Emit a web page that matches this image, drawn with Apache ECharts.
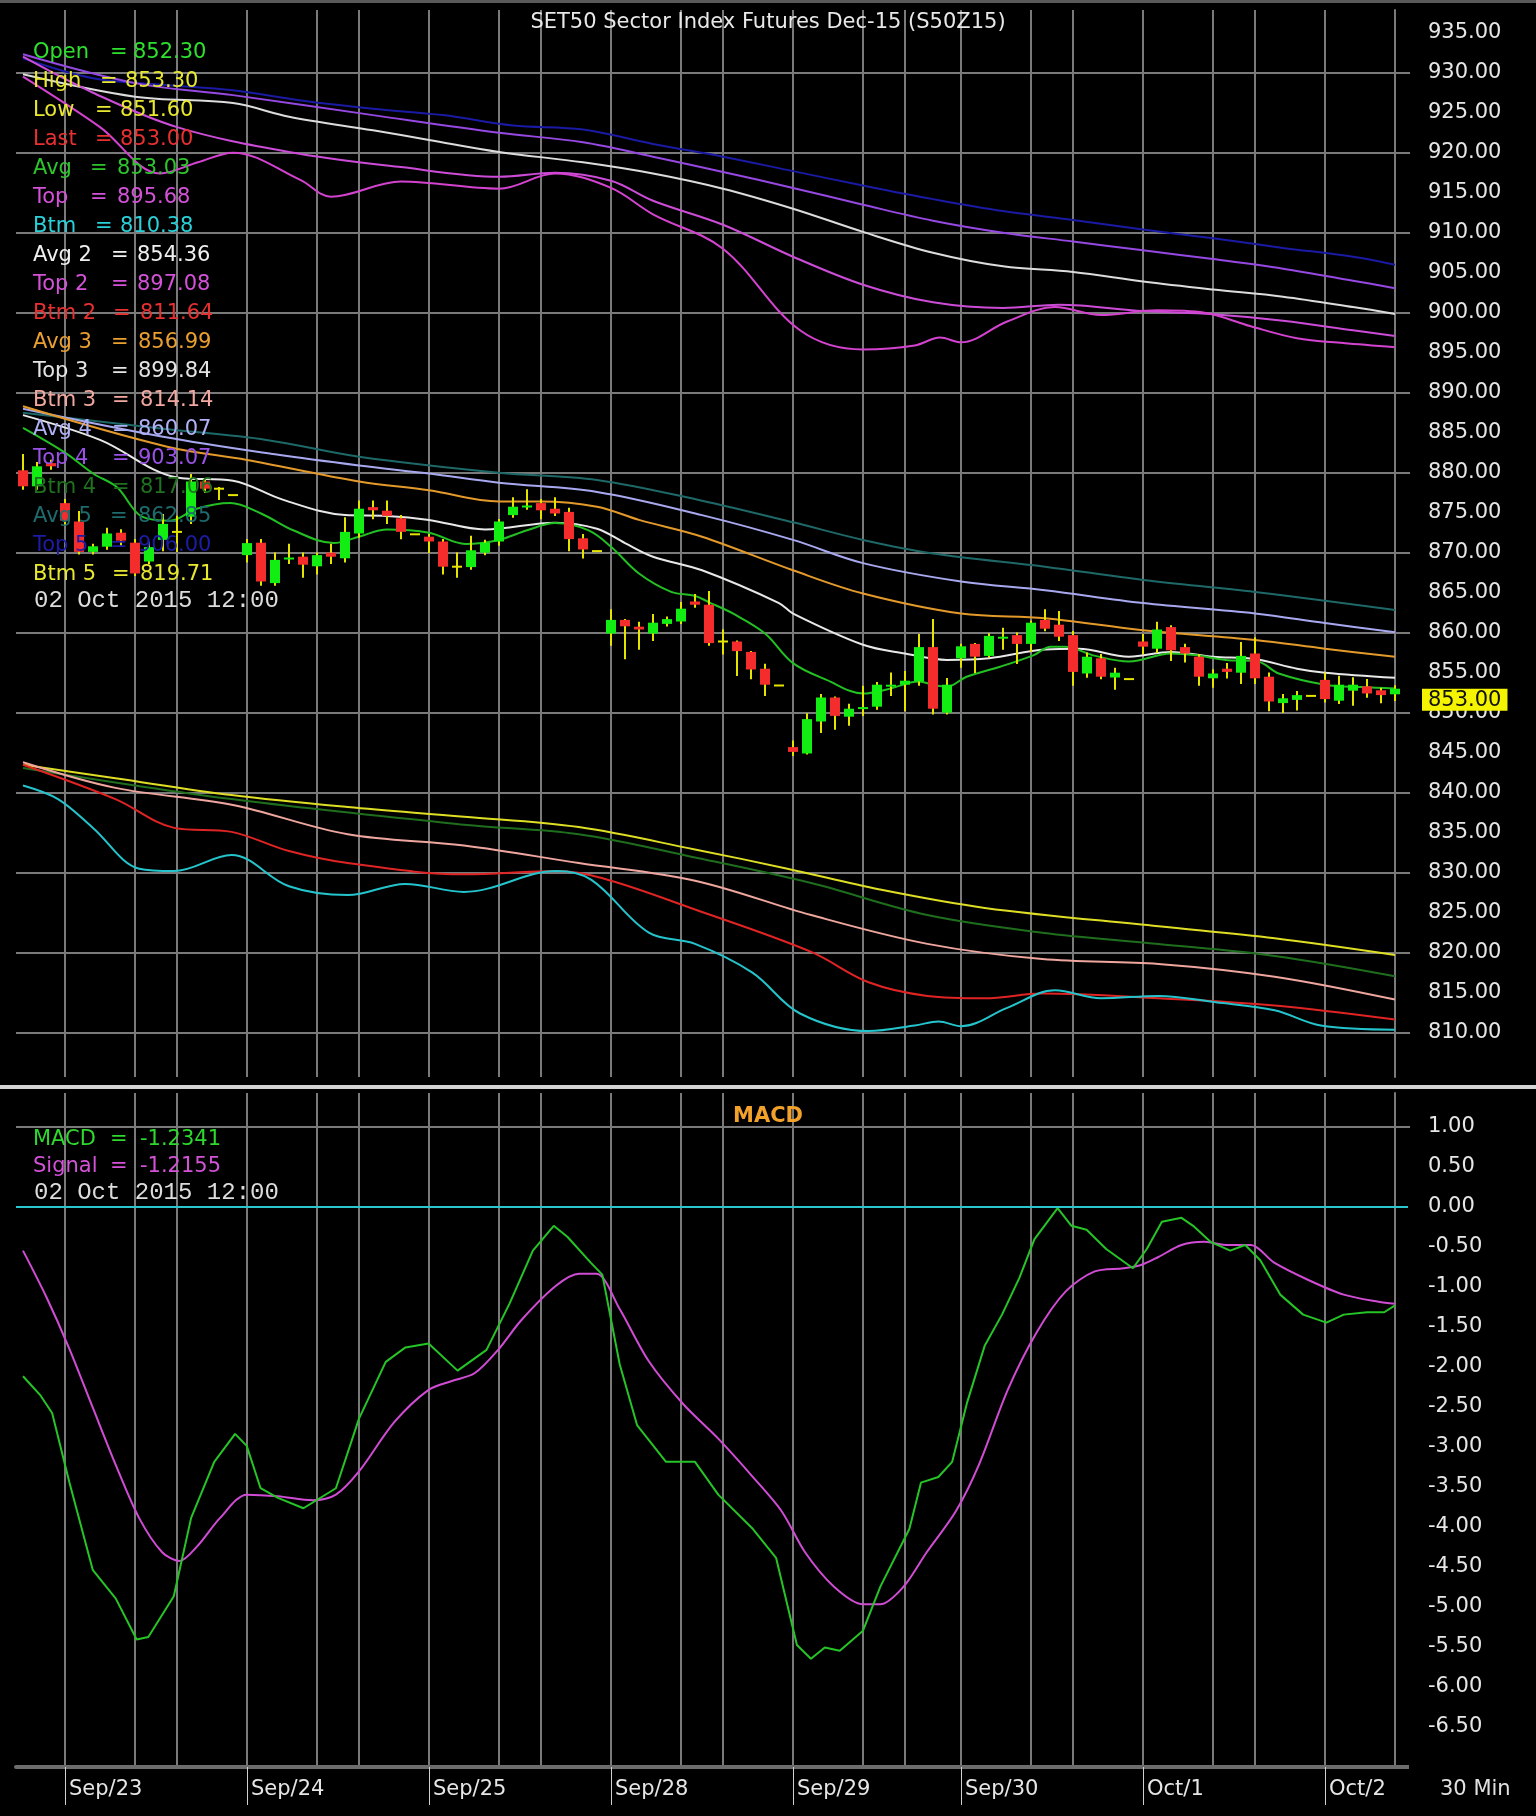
<!DOCTYPE html>
<html><head><meta charset="utf-8">
<script src="https://cdn.jsdelivr.net/npm/echarts@6/dist/echarts.min.js"></script>
<style>html,body{margin:0;padding:0;background:#000}#c{width:1536px;height:1816px}</style>
</head><body><div id="c"></div>
<script>
// ---------- DATA ----------
const opens  = [880.3,878.3,881.2,876.2,873.9,870.1,870.75,872.5,871.25,868.9,871.6,872.6,874.5,878.9,878.0,877.2,869.7,871.25,866.2,869.2,869.5,868.3,870.0,869.3,872.4,875.7,875.25,874.3,872.3,872.0,871.4,868.25,868.2,870.0,871.4,874.7,875.7,876.2,875.5,875.1,871.8,870.2,859.9,861.6,860.75,859.9,861.1,861.4,863.9,863.5,858.9,858.9,857.6,855.5,853.4,845.7,844.9,848.9,851.9,849.5,850.5,850.75,853.3,853.5,853.9,858.2,850.0,856.8,858.6,857.1,859.3,859.7,858.6,861.6,861.0,859.7,854.9,856.8,854.4,854.2,858.9,858.0,860.7,858.2,857.0,854.3,855.5,855.0,857.4,854.5,851.2,851.6,852.1,854.1,851.5,852.75,853.3,852.8,852.3];
const closes = [878.3,880.8,880.8,874.0,870.1,870.8,872.4,871.5,867.4,870.7,873.6,872.6,878.9,878.0,878.0,877.2,871.2,866.4,869.1,869.4,868.5,869.7,869.5,872.6,875.5,875.3,874.6,872.6,872.3,871.4,868.25,868.25,870.3,871.25,873.9,875.75,875.9,875.3,874.9,871.7,870.4,870.2,861.6,860.8,860.4,861.25,861.7,863.0,863.5,858.7,858.9,857.7,855.4,853.5,853.4,845.1,849.2,851.9,849.6,850.5,850.7,853.5,853.5,854.0,858.2,850.5,853.5,858.3,857.0,859.6,859.5,858.6,861.25,860.5,859.5,855.1,857.0,854.5,855.0,854.2,858.25,860.4,857.8,857.4,854.5,854.9,855.1,857.1,854.3,851.4,851.8,852.2,852.1,851.7,853.5,853.5,852.4,852.2,853.0];
const lows   = [878.0,878.0,880.5,873.5,869.9,869.9,870.5,871.0,867.2,868.7,870.3,870.2,873.7,877.6,876.7,877.2,868.9,866.0,866.0,868.7,867.0,867.4,868.7,868.9,872.0,874.3,873.7,871.8,872.3,870.1,867.4,867.0,868.0,869.8,871.0,874.5,875.5,874.3,874.7,870.3,869.4,870.2,858.5,856.8,858.0,859.1,860.9,861.2,863.25,858.5,857.4,854.7,854.3,852.2,853.4,844.7,844.9,847.6,848.0,848.5,849.7,850.5,852.2,850.3,853.5,849.9,849.9,855.75,855.1,857.0,858.0,856.2,857.7,860.3,859.1,853.5,854.5,854.3,853.0,854.2,857.4,857.6,856.6,856.4,853.5,853.25,854.4,853.7,853.7,850.3,850.1,850.4,852.1,851.4,851.2,851.0,852.0,851.3,851.6];
const highs  = [882.2,881.2,881.5,876.6,875.1,871.0,873.0,872.8,871.6,871.2,874.7,874.5,879.7,879.2,878.1,877.2,871.6,871.6,869.9,871.0,869.9,869.9,871.0,874.3,876.4,876.4,876.4,874.6,872.3,872.2,871.6,869.9,872.0,871.5,874.1,876.8,877.8,876.6,876.8,875.5,872.2,870.2,862.8,861.6,861.25,862.2,861.9,863.7,864.7,865.1,860.3,858.9,857.6,856.0,853.4,846.4,849.8,852.2,851.9,851.0,853.25,853.7,854.9,855.1,859.7,861.6,854.2,858.5,858.6,859.8,860.5,859.9,861.4,862.8,862.6,860.1,857.4,857.2,855.5,854.2,859.7,861.25,860.8,858.5,857.2,855.3,856.1,858.7,859.3,854.9,852.2,852.6,852.1,854.9,854.5,854.3,854.1,853.0,853.3];

// band lines [bar index, value]
const top5 = [[0,931.8],[5,929.3],[10,928.5],[15,927.8],[20,926.5],[25,925.5],[30,924.7],[35,923.4],[40,922.9],[45,921.1],[50,919.5],[55,917.7],[60,915.9],[65,914.2],[70,912.7],[75,911.6],[80,910.4],[85,909.3],[90,908.1],[95,907.0],[98,906.00]];
const top4 = [[0,932.3],[8,928.7],[15,927.2],[25,924.7],[34,922.5],[40,921.3],[45,919.5],[50,917.6],[55,915.6],[60,913.5],[65,911.5],[70,910.0],[75,908.9],[80,907.8],[85,906.7],[90,905.5],[95,904.0],[98,903.07]];
const top3 = [[0,929.8],[8,927.0],[15,926.2],[19,924.5],[25,922.8],[29,921.6],[34,920.1],[40,918.8],[45,917.4],[50,915.5],[55,913.0],[60,910.1],[65,907.5],[70,905.8],[75,905.1],[80,903.9],[85,902.9],[90,902.0],[95,900.7],[98,899.84]];
const top2 = [[0,932.0],[5,927.5],[11,923.2],[19,920.1],[27,918.2],[34,917.0],[38,917.5],[42,916.5],[45,914.0],[50,911.0],[55,907.0],[60,903.5],[65,901.3],[70,900.6],[74,901.0],[80,900.2],[85,899.8],[90,899.0],[95,897.8],[98,897.08]];
const top1 = [[0,929.5],[5.5,923.2],[9.8,917.4],[12.5,918.8],[15,920.0],[19.8,916.6],[22,914.5],[27,916.4],[34,915.5],[38,917.4],[42,915.6],[45,912.3],[50,908.0],[55.5,897.8],[60,895.4],[63.7,895.9],[65.5,896.9],[67,896.3],[70.3,898.9],[73.7,900.7],[77,899.7],[81,900.3],[84.4,900.0],[87.7,898.3],[91,896.8],[94.3,896.2],[98,895.68]];
const avg5 = [[0,887.5],[10,885.5],[17.4,884.1],[24,882.0],[34,880.0],[41,879.1],[48.5,876.5],[55,873.8],[60,871.6],[65,869.9],[73,868.25],[80,866.6],[88,865.1],[98,862.85]];
const avg4 = [[0,888.0],[10,884.5],[18,882.3],[24,880.9],[29,879.9],[34,878.75],[41,877.6],[48.5,874.7],[55,871.6],[60,868.7],[67,866.4],[73,865.3],[80,863.7],[88,862.4],[93,861.2],[98,860.07]];
const avg3 = [[0,888.3],[10.3,883.25],[16,881.6],[24,878.9],[29,877.8],[34,876.4],[37,876.4],[41,875.75],[44,874.1],[48.5,872.0],[55,867.8],[60,864.9],[67,862.4],[73,861.8],[80,860.3],[88,859.1],[93,858.0],[98,856.99]];
const avg2 = [[0,887.2],[5.5,884.1],[11,879.4],[15,879.0],[18.6,876.6],[23,874.7],[26,874.6],[29,874.1],[33,872.9],[38,873.75],[41,873.0],[43,871.2],[45,869.5],[48.5,867.8],[54,863.7],[55,862.4],[60,858.5],[63,857.4],[66,856.6],[69,856.8],[73,857.9],[75.4,858.0],[79,857.0],[82,857.6],[85,857.0],[88,856.7],[91,855.5],[93,855.0],[98,854.36]];
const avg1 = [[0,885.6],[3,882.5],[5,879.9],[6.7,878.2],[8.5,874.5],[10.5,874.0],[12.4,875.5],[14.8,876.2],[17,874.9],[19.3,872.8],[22.2,871.2],[24,872.0],[26,872.9],[29,872.5],[31.6,871.1],[34,871.6],[36,872.8],[38,873.7],[40.4,872.8],[42,870.75],[44,867.4],[46.3,865.1],[48,864.6],[49,863.8],[50.7,862.4],[53,859.9],[55,856.2],[57.4,854.1],[60,852.4],[61.7,852.9],[64,853.9],[65,853.5],[66,853.25],[67.4,854.5],[69.8,855.75],[72.2,857.2],[73.4,858.25],[74.4,858.25],[76.6,857.1],[79,856.4],[82,857.4],[83.7,857.2],[85.9,856.6],[88.2,856.4],[89.7,854.9],[93,853.5],[95.6,853.2],[98,853.03]];
const btm5 = [[0,843.5],[6.6,841.8],[14.9,839.7],[23.2,838.2],[31.5,837.0],[39.7,835.7],[48,832.9],[54.6,830.5],[61.2,827.9],[68.7,825.6],[81.1,823.3],[89.4,821.8],[98,819.71]];
const btm4 = [[0,843.1],[14.9,839.2],[31.5,836.0],[39.7,834.8],[48,831.9],[56.3,828.7],[64.6,824.7],[72.8,822.5],[81.1,821.1],[89.4,819.6],[98,817.06]];
const btm3 = [[0,843.8],[6.6,840.6],[14.9,838.5],[23.2,834.8],[31.5,833.4],[39.7,831.2],[48,829.0],[56.3,824.7],[64.6,821.1],[72.8,819.2],[81.1,818.6],[89.4,817.0],[98,814.14]];
const btm2 = [[0,843.5],[6.6,839.2],[10.8,835.6],[14.9,835.1],[19,832.7],[23.2,831.2],[31.5,829.8],[38.1,830.2],[41.4,829.3],[48,825.4],[56.3,820.1],[60.4,816.3],[64.6,814.6],[68.7,814.3],[72.8,814.9],[81.1,814.3],[89.4,813.4],[98,811.64]];
const btm1 = [[0,840.9],[2.5,839.2],[5,835.6],[8.3,830.5],[10.8,830.2],[14.9,832.2],[19,828.3],[23.2,827.2],[27.3,828.6],[31.5,827.6],[38.1,830.2],[40.6,829.1],[44.7,822.5],[48,821.1],[52.1,817.5],[55.5,812.4],[60.4,810.2],[63.7,810.9],[65.4,811.4],[67,810.8],[70.3,813.1],[73.7,815.3],[77,814.3],[81.1,814.6],[85.2,813.8],[89.4,812.8],[92.7,810.9],[98,810.38]];

const macd = [[0,-2.12],[1.25,-2.36],[2.08,-2.58],[3.32,-3.45],[4.98,-4.54],[6.63,-4.90],[8.12,-5.41],[8.95,-5.38],[10.77,-4.87],[12.01,-3.89],[13.66,-3.19],[15.15,-2.84],[15.98,-2.99],[16.97,-3.52],[18.21,-3.64],[20.03,-3.77],[22.35,-3.52],[24.0,-2.65],[25.91,-1.94],[27.32,-1.76],[28.97,-1.71],[31.04,-2.05],[33.11,-1.79],[34.76,-1.21],[36.42,-0.55],[37.91,-0.24],[38.9,-0.38],[40.55,-0.70],[41.38,-0.85],[42.62,-1.97],[43.86,-2.73],[45.93,-3.19],[48.0,-3.19],[49.66,-3.60],[52.14,-4.03],[53.79,-4.39],[55.28,-5.48],[56.28,-5.65],[57.27,-5.51],[58.34,-5.55],[60.0,-5.30],[61.24,-4.75],[63.31,-4.03],[64.14,-3.45],[65.38,-3.38],[66.37,-3.19],[67.45,-2.44],[68.69,-1.74],[69.93,-1.35],[71.17,-0.89],[72.24,-0.41],[73.9,-0.02],[74.89,-0.24],[75.97,-0.29],[77.37,-0.53],[79.28,-0.77],[80.27,-0.53],[81.35,-0.19],[82.75,-0.14],[83.58,-0.24],[84.82,-0.44],[86.23,-0.55],[87.3,-0.48],[88.38,-0.67],[89.8,-1.10],[91.44,-1.35],[93.1,-1.45],[94.34,-1.35],[96.0,-1.32],[97.23,-1.32],[98,-1.2341]];
const signal = [[0,-0.55],[1.67,-1.13],[3.32,-1.78],[4.98,-2.51],[6.63,-3.23],[8.29,-3.89],[9.94,-4.32],[11.18,-4.43],[12.42,-4.25],[14.08,-3.89],[15.98,-3.60],[18.21,-3.62],[20.7,-3.67],[22.35,-3.60],[24.0,-3.31],[26.49,-2.70],[28.97,-2.29],[30.63,-2.18],[32.28,-2.08],[33.94,-1.79],[35.59,-1.42],[38.07,-0.99],[39.73,-0.84],[40.97,-0.84],[42.62,-1.28],[44.69,-1.93],[47.17,-2.47],[49.66,-2.90],[52.14,-3.38],[54.2,-3.81],[55.86,-4.32],[57.93,-4.75],[60.0,-4.97],[61.24,-4.97],[62.9,-4.75],[64.55,-4.32],[66.62,-3.81],[68.27,-3.23],[70.34,-2.29],[72.41,-1.57],[74.48,-1.06],[76.55,-0.81],[78.61,-0.77],[79.86,-0.73],[81.1,-0.63],[82.75,-0.48],[84.4,-0.44],[86.06,-0.48],[87.71,-0.48],[89.37,-0.70],[91.85,-0.92],[94.34,-1.10],[96.82,-1.19],[98,-1.2155]];

const dayStarts = [3,16,29,42,55,67,80,93];
const dayLabels = ['Sep/23','Sep/24','Sep/25','Sep/28','Sep/29','Sep/30','Oct/1','Oct/2'];
const gridLines = [3,8,11,16,21,24,29,34,37,42,47,50,55,60,63,67,72,75,80,85,88,93];
const priceLabelTicks = [810,815,820,825,830,835,840,845,850,855,860,865,870,875,880,885,890,895,900,905,910,915,920,925,930,935];
const priceGridTicks = [810,820,830,840,850,860,870,880,890,900,910,920,930];
const macdLabelTicks = [1,0.5,0,-0.5,-1,-1.5,-2,-2.5,-3,-3.5,-4,-4.5,-5,-5.5,-6,-6.5];
const macdGridTicks = [1];
const macdZero = [0];
const titleText = 'SET50 Sector Index Futures Dec-15 (S50Z15)';
const stampText = '02 Oct 2015 12:00';

// ---------- CHART ----------
const FONT = 'DejaVu Sans';
const GRIDC = '#7a7a7a';
const last = a => a[a.length - 1][1];
const N = opens.length - 1;

const bandSeries = [
  ['Top 5', top5, '#1a1aa4'], ['Top 4', top4, '#9648e2'], ['Top 3', top3, '#dcdcdc'],
  ['Top 2', top2, '#cc4cd8'], ['Top', top1, '#d443d0'],
  ['Avg 5', avg5, '#1e6868'], ['Avg 4', avg4, '#a8a8f0'], ['Avg 3', avg3, '#e49a2a'],
  ['Avg 2', avg2, '#e8e8e8'], ['Avg', avg1, '#22c022'],
  ['Btm 5', btm5, '#dede24'], ['Btm 4', btm4, '#1e6e1e'], ['Btm 3', btm3, '#eea69e'],
  ['Btm 2', btm2, '#e02424'], ['Btm', btm1, '#24c4cc']
].map(([name, data, color]) => ({
  name, type: 'line', data, xAxisIndex: 0, yAxisIndex: 0, showSymbol: false, smooth: 0.35,
  lineStyle: { color, width: 2 }, z: 2, silent: true
}));

const candleData = opens.map((o, i) => [i, o, closes[i], lows[i], highs[i]]);
function renderCandle(params, api) {
  const x = api.value(0), o = api.value(1), c = api.value(2), l = api.value(3), h = api.value(4);
  const pH = api.coord([x, h]), pL = api.coord([x, l]), pO = api.coord([x, o]), pC = api.coord([x, c]);
  const ch = [];
  if (h !== l) ch.push({ type: 'line', shape: { x1: pH[0], y1: pH[1] - 1, x2: pL[0], y2: pL[1] + 1 }, style: { stroke: '#e4e400', lineWidth: 2 } });
  if (o === c) {
    ch.push({ type: 'line', shape: { x1: pO[0] - 5, y1: pO[1], x2: pO[0] + 5, y2: pO[1] }, style: { stroke: '#e4e400', lineWidth: 2 } });
  } else {
    const y0 = Math.min(pO[1], pC[1]);
    ch.push({ type: 'rect', shape: { x: pO[0] - 5, y: y0, width: 10, height: Math.max(2, Math.abs(pO[1] - pC[1])) }, style: { fill: c > o ? '#12ee12' : '#f42c2c' } });
  }
  return { type: 'group', children: ch };
}

const legendRows = [
  ['Open', opens[N], '#2ee02e', 110, 133], ['High', highs[N], '#e8e830', 100, 125],
  ['Low', lows[N], '#e8e830', 95, 120], ['Last', closes[N], '#e83030', 95, 120],
  ['Avg', last(avg1), '#2ec42e', 90, 117], ['Top', last(top1), '#d452d8', 90, 117],
  ['Btm', last(btm1), '#2ad0d8', 95, 120], ['Avg 2', last(avg2), '#f0f0f0', 111, 137],
  ['Top 2', last(top2), '#d452d8', 111, 137], ['Btm 2', last(btm2), '#e83030', 113, 140],
  ['Avg 3', last(avg3), '#eaa030', 111, 138], ['Top 3', last(top3), '#e4e4e4', 111, 138],
  ['Btm 3', last(btm3), '#f2a8a0', 112, 140], ['Avg 4', last(avg4), '#b0b0f6', 112, 138],
  ['Top 4', last(top4), '#9a52e6', 112, 138], ['Btm 4', last(btm4), '#1f721f', 112, 140],
  ['Avg 5', last(avg5), '#1f6a6c', 110, 138], ['Top 5', last(top5), '#1c1ca6', 110, 138],
  ['Btm 5', last(btm5), '#e8e830', 112, 140]
];
function txt(text, x, y, fill, size, family, align, weight) {
  return { type: 'text', z: 100, style: { text, x, y, fill, font: (weight || 'normal') + ' ' + size + 'px "' + family + '"',
    textAlign: align || 'left', align: align || 'left', textVerticalAlign: 'middle', verticalAlign: 'middle' } };
}
const graphics = [
  { type: 'rect', z: 100, shape: { x: 0, y: 0, width: 1536, height: 3 }, style: { fill: '#5a5a5a' } },
  { type: 'rect', z: 100, shape: { x: 0, y: 1085, width: 1536, height: 4 }, style: { fill: '#d4d4d4' } },
  { type: 'rect', z: 100, shape: { x: 1394, y: 1765, width: 15, height: 4 }, style: { fill: '#6c6c6c' } },
  txt(titleText, 768, 23, '#e8e8e8', 21, FONT, 'center'),
  txt(stampText, 34, 601, '#dcdcdc', 24, 'Liberation Mono'),
  txt('MACD', 768, 1117, '#f2a22a', 21, FONT, 'center', 'bold'),
  txt('MACD', 33, 1140, '#2ed82e', 21, FONT), txt('=', 110, 1140, '#2ed82e', 21, FONT), txt(last(macd).toFixed(4), 140, 1140, '#2ed82e', 21, FONT),
  txt('Signal', 33, 1167, '#d452d8', 21, FONT), txt('=', 110, 1167, '#d452d8', 21, FONT), txt(last(signal).toFixed(4), 140, 1167, '#d452d8', 21, FONT),
  txt(stampText, 34, 1193, '#dcdcdc', 24, 'Liberation Mono'),
  txt('30 Min', 1440, 1790, '#e0e0e0', 21, FONT)
];
legendRows.forEach((r, k) => {
  const y = 53 + 29 * k;
  graphics.push(txt(r[0], 33, y, r[2], 21, FONT), txt('=', r[3], y, r[2], 21, FONT), txt(r[1].toFixed(2), r[4], y, r[2], 21, FONT));
});

const axisText = { color: '#e6e6e6', fontSize: 21, fontFamily: FONT };
const noLine = { show: false, onZero: false };
const chart = echarts.init(document.getElementById('c'), null, { renderer: 'canvas' });
chart.setOption({
  backgroundColor: '#000',
  animation: false,
  grid: [
    { left: 16, right: 141, top: 10, height: 1067, containLabel: false, outerBoundsMode: 'none' },
    { left: 16, right: 141, top: 1093, height: 674, containLabel: false, outerBoundsMode: 'none' }
  ],
  xAxis: [
    { gridIndex: 0, type: 'value', min: -0.5, max: N, axisLine: noLine, axisLabel: { show: false },
      axisTick: { show: false, customValues: gridLines }, splitLine: { show: true, lineStyle: { color: GRIDC, width: 2 } } },
    { gridIndex: 1, type: 'value', position: 'top', min: -0.5, max: N, axisLine: noLine, axisLabel: { show: false },
      axisTick: { show: false, customValues: gridLines }, splitLine: { show: true, lineStyle: { color: GRIDC, width: 2 } } },
    { gridIndex: 1, type: 'value', position: 'bottom', min: -0.5, max: N,
      axisLine: { show: true, onZero: false, lineStyle: { color: '#6c6c6c', width: 4 } },
      axisTick: { show: true, customValues: dayStarts, length: 38, lineStyle: { color: '#d0d0d0', width: 1 } },
      axisLabel: Object.assign({ show: true, customValues: dayStarts, align: 'left', padding: [0, 0, 0, 4], margin: 12,
        formatter: v => dayLabels[dayStarts.indexOf(Math.round(v))] || '' }, axisText),
      splitLine: { show: false } }
  ],
  yAxis: [
    { gridIndex: 0, type: 'value', position: 'right', min: 804.46, max: 937.84, scale: true,
      axisLine: { show: true, onZero: false, lineStyle: { color: GRIDC, width: 2 } },
      axisTick: { show: true, customValues: priceGridTicks, length: 15, lineStyle: { color: GRIDC, width: 2 } },
      axisLabel: Object.assign({ customValues: priceLabelTicks, margin: 33, formatter: v => v.toFixed(2) }, axisText),
      splitLine: { show: true, lineStyle: { color: GRIDC, width: 2 } } },
    { gridIndex: 0, type: 'value', position: 'right', min: 804.46, max: 937.84, scale: true,
      axisLine: noLine, axisTick: { show: false, customValues: [closes[N]] }, splitLine: { show: false },
      axisLabel: { customValues: [closes[N]], margin: 27, verticalAlign: 'top', formatter: v => v.toFixed(2),
        color: '#111', backgroundColor: '#f4f400', padding: [1, 6, 0, 6], fontSize: 21, fontFamily: FONT } },
    { gridIndex: 1, type: 'value', position: 'right', min: -7.004, max: 1.42, scale: true,
      axisLine: { show: true, onZero: false, lineStyle: { color: GRIDC, width: 2 } },
      axisTick: { show: true, customValues: macdGridTicks, length: 15, lineStyle: { color: GRIDC, width: 2 } },
      axisLabel: Object.assign({ customValues: macdLabelTicks, margin: 33, formatter: v => v.toFixed(2) }, axisText),
      splitLine: { show: true, lineStyle: { color: GRIDC, width: 2 } } },
    { gridIndex: 1, type: 'value', position: 'right', min: -7.004, max: 1.42, scale: true,
      axisLine: noLine, axisLabel: { show: false }, splitLine: { show: false },
      axisTick: { show: true, customValues: macdZero, length: 13, lineStyle: { color: '#2ac6cc', width: 2 } } }
  ],
  graphic: graphics,
  series: bandSeries.concat([
    { name: 'Candles', type: 'custom', xAxisIndex: 0, yAxisIndex: 0, data: candleData, renderItem: renderCandle,
      encode: { x: 0, y: [1, 2, 3, 4] }, z: 5, silent: true },
    { name: 'MACD', type: 'line', xAxisIndex: 1, yAxisIndex: 2, data: macd, showSymbol: false, smooth: false,
      lineStyle: { color: '#26c426', width: 2 }, z: 4, silent: true,
      markLine: { silent: true, symbol: ['none', 'none'], label: { show: false },
        lineStyle: { color: '#2ac6cc', width: 2, type: 'solid' }, data: [{ yAxis: 0 }] } },
    { name: 'Signal', type: 'line', xAxisIndex: 1, yAxisIndex: 2, data: signal, showSymbol: false, smooth: 0.3,
      lineStyle: { color: '#d04cd4', width: 2 }, z: 3, silent: true }
  ])
});
</script>
</body></html>
